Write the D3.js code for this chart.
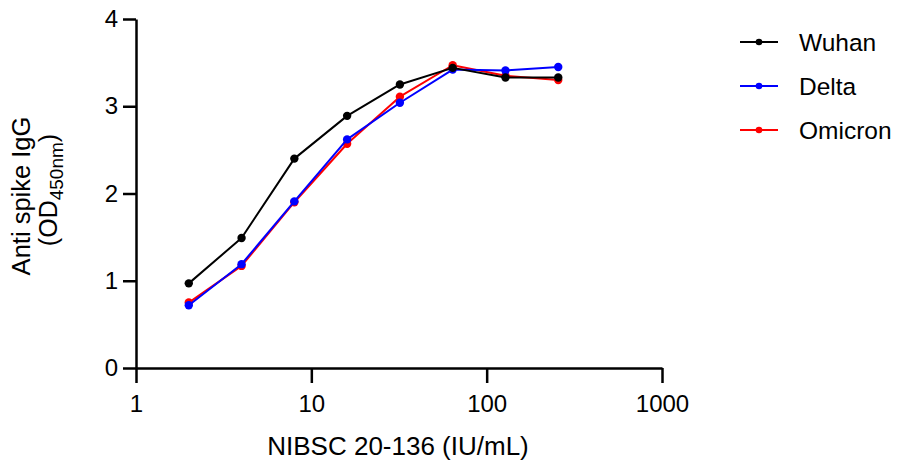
<!DOCTYPE html>
<html>
<head>
<meta charset="utf-8">
<script src="https://cdn.jsdelivr.net/npm/d3@7"></script>
<style>
  body { margin: 0; background: #fff; }
  text { font-family: "Liberation Sans", Arial, sans-serif; }
</style>
</head>
<body>
<div id="chart"></div>
<script>
// dilution series of the NIBSC standard (IU/mL)
const doses = [2, 4, 8, 16, 32, 64, 128, 256];
const wuhan = [0.97, 1.49, 2.40, 2.89, 3.25, 3.44, 3.33, 3.33];
const delta = [0.72, 1.19, 1.91, 2.62, 3.04, 3.42, 3.41, 3.45];
const omicron = [0.75, 1.17, 1.90, 2.57, 3.11, 3.47, 3.35, 3.30];
const seriesNames = ["Wuhan", "Delta", "Omicron"];
const seriesColors = ["#000000", "#0000ff", "#ff0000"];
const xTicks = [1, 10, 100, 1000];
const yTicks = [0, 1, 2, 3, 4];

const width = 900, height = 461;

let svg = d3.select("#chart").append("svg")
    .attr("width", width)
    .attr("height", height);

let xScale = d3.scaleLog().domain([1, 1000]).range([136, 662]);
let yScale = d3.scaleLinear().domain([0, 4]).range([368, 19]);

let allSeries = [wuhan, delta, omicron].map(function (vals, i) {
    return {
        name: seriesNames[i],
        color: seriesColors[i],
        points: doses.map(function (d, j) { return { x: d, y: vals[j] }; })
    };
});

let line = d3.line()
    .x(function (d) { return xScale(d.x); })
    .y(function (d) { return yScale(d.y); });

// axes
let xAxis = svg.append("g")
    .attr("transform", "translate(0," + yScale(0) + ")")
    .call(d3.axisBottom(xScale).tickValues(xTicks).tickFormat(d3.format("d"))
        .tickSize(15).tickPadding(12).tickSizeOuter(0));

let yAxis = svg.append("g")
    .attr("transform", "translate(" + xScale(1) + ",0)")
    .call(d3.axisLeft(yScale).tickValues(yTicks).tickFormat(d3.format("d"))
        .tickSize(13).tickPadding(5).tickSizeOuter(0));

[xAxis, yAxis].forEach(function (ax) {
    ax.selectAll("path, line").attr("stroke", "#000").attr("stroke-width", 2.5);
    ax.selectAll("text")
        .attr("fill", "#000")
        .style("font-family", "Liberation Sans, Arial, sans-serif")
        .style("font-size", "24px");
});

// draw omicron first, wuhan last (on top)
allSeries.slice().reverse().forEach(function (s) {
    svg.append("path")
        .datum(s.points)
        .attr("fill", "none")
        .attr("stroke", s.color)
        .attr("stroke-width", 2)
        .attr("stroke-linejoin", "round")
        .attr("d", line);

    svg.selectAll(null)
        .data(s.points)
        .enter().append("circle")
        .attr("cx", function (d) { return xScale(d.x); })
        .attr("cy", function (d) { return yScale(d.y); })
        .attr("r", 4.2)
        .attr("fill", s.color);
});

// x axis title
svg.append("text")
    .text("NIBSC 20-136 (IU/mL)")
    .attr("text-anchor", "middle")
    .attr("x", 398)
    .attr("y", 455)
    .style("font-size", "26px");

// y axis title, two lines
let yTitle = svg.append("g")
    .attr("transform", "translate(30,196) rotate(-90)");

yTitle.append("text")
    .text("Anti spike IgG")
    .attr("text-anchor", "middle")
    .style("font-size", "25.5px");

let yTitle2 = yTitle.append("text")
    .attr("text-anchor", "middle")
    .attr("x", 6)
    .attr("y", 27)
    .style("font-size", "25px");
yTitle2.append("tspan").text("(OD");
yTitle2.append("tspan").text("450nm").attr("dy", 6).style("font-size", "19px");
yTitle2.append("tspan").text(")").attr("dy", -6);

// legend
let legend = svg.selectAll(".legend")
    .data(allSeries)
    .enter().append("g")
    .attr("class", "legend")
    .attr("transform", function (d, i) { return "translate(740," + (42 + i * 44) + ")"; });

legend.append("line")
    .attr("x1", 0).attr("x2", 38)
    .attr("y1", 0).attr("y2", 0)
    .attr("stroke", function (d) { return d.color; })
    .attr("stroke-width", 2);

legend.append("circle")
    .attr("cx", 19).attr("cy", 0).attr("r", 3.3)
    .attr("fill", function (d) { return d.color; });

legend.append("text")
    .text(function (d) { return d.name; })
    .attr("x", 59)
    .attr("y", 9)
    .style("font-size", "24.5px");
</script>
</body>
</html>
